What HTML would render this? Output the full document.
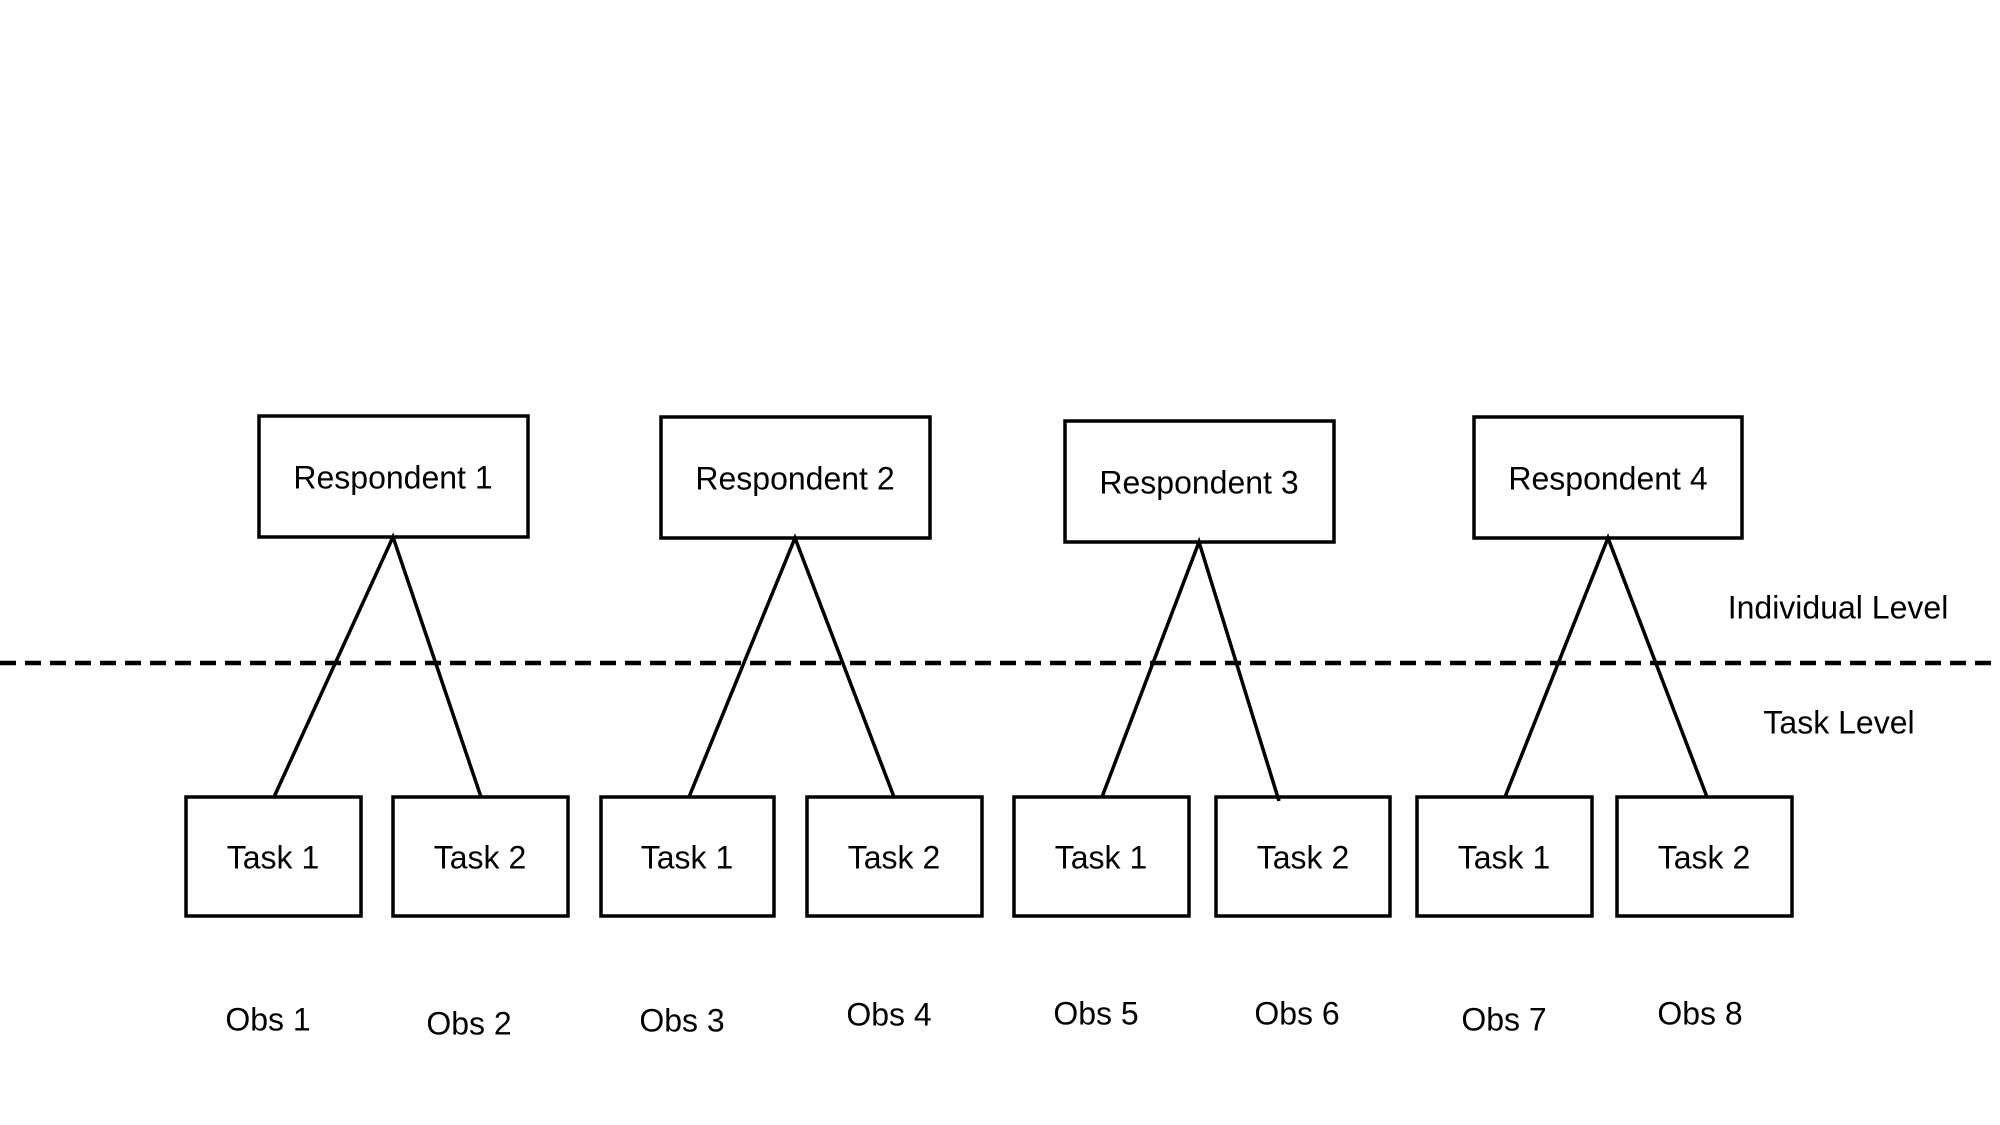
<!DOCTYPE html>
<html><head><meta charset="utf-8"><style>
html,body{margin:0;padding:0;background:#fff;}
svg{display:block;}
text{font-family:"Liberation Sans",sans-serif;font-size:32px;fill:#000;text-anchor:middle;dominant-baseline:middle;}
</style></head><body>
<svg width="2000" height="1125" viewBox="0 0 2000 1125" xmlns="http://www.w3.org/2000/svg">
<g fill="none" stroke="#000" stroke-width="3.5">
<rect x="259" y="416" width="269" height="121"/>
<rect x="661" y="417" width="269" height="121"/>
<rect x="1065" y="421" width="269" height="121"/>
<rect x="1474" y="417" width="268" height="121"/>
<rect x="186" y="797" width="175" height="119"/>
<rect x="393" y="797" width="175" height="119"/>
<rect x="601" y="797" width="173" height="119"/>
<rect x="807" y="797" width="175" height="119"/>
<rect x="1014" y="797" width="175" height="119"/>
<rect x="1216" y="797" width="174" height="119"/>
<rect x="1417" y="797" width="175" height="119"/>
<rect x="1617" y="797" width="175" height="119"/>
<path d="M274 797L393 537L481 797"/>
<path d="M689 797L795 538L894 797"/>
<path d="M1102 797L1199 542L1279 801"/>
<path d="M1505 797L1608 538L1707 797"/>
<line x1="0" y1="663" x2="2000" y2="663" stroke-width="4.5" stroke-dasharray="16,9"/>
</g>
<g transform="translate(0,3)">
<text x="393" y="477">Respondent 1</text>
<text x="795" y="478">Respondent 2</text>
<text x="1199" y="482">Respondent 3</text>
<text x="1608" y="478">Respondent 4</text>
<text x="273" y="857">Task 1</text>
<text x="480" y="857">Task 2</text>
<text x="687" y="857">Task 1</text>
<text x="894" y="857">Task 2</text>
<text x="1101" y="857">Task 1</text>
<text x="1303" y="857">Task 2</text>
<text x="1504" y="857">Task 1</text>
<text x="1704" y="857">Task 2</text>
<text x="1838" y="607">Individual Level</text>
<text x="1839" y="722">Task Level</text>
<text x="268" y="1019">Obs 1</text>
<text x="469" y="1023">Obs 2</text>
<text x="682" y="1020">Obs 3</text>
<text x="889" y="1014">Obs 4</text>
<text x="1096" y="1013">Obs 5</text>
<text x="1297" y="1013">Obs 6</text>
<text x="1504" y="1019">Obs 7</text>
<text x="1700" y="1013">Obs 8</text>
</g>
</svg>
</body></html>
